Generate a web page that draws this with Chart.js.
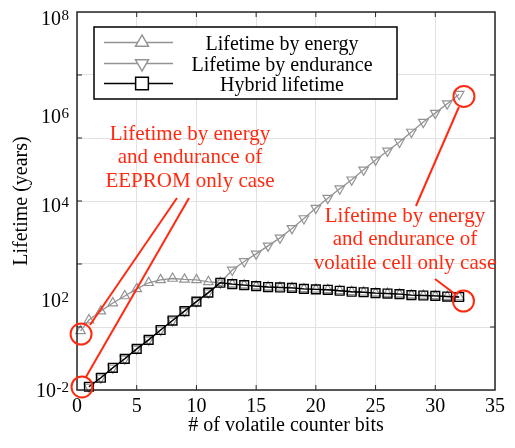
<!DOCTYPE html>
<html>
<head>
<meta charset="utf-8">
<script src="https://cdn.jsdelivr.net/npm/chart.js@4.4.1/dist/chart.umd.min.js"></script>
<style>
  html, body { margin: 0; padding: 0; background: #fff; }
  #wrap { width: 515px; height: 448px; }
</style>
</head>
<body>
<div id="wrap"><canvas id="lifeChart" width="515" height="448"></canvas></div>
<script>
// lifetime (years) vs number of volatile counter bits
const energyBits = [0.3, 1, 2, 3, 4, 5, 6, 7, 8, 9, 10, 11, 12, 13, 14, 15, 16, 17, 18, 19, 20, 21, 22, 23, 24, 25, 26, 27, 28, 29, 30, 31, 32];
const energyLife = [17.8, 30.2, 46.8, 69.2, 97.7, 138, 186, 214, 229, 219, 214, 195, 186, 174, 166, 158, 151, 148, 145, 138, 135, 132, 126, 120, 117, 112, 110, 107, 102, 100, 98, 95, 93];

const counterBits = [1, 2, 3, 4, 5, 6, 7, 8, 9, 10, 11, 12, 13, 14, 15, 16, 17, 18, 19, 20, 21, 22, 23, 24, 25, 26, 27, 28, 29, 30, 31, 32];
const enduranceLife = [1.17, 1.82, 2.95, 4.57, 7.41, 11.5, 18.6, 29.5, 46.8, 74.1, 115, 186, 347, 525, 759, 1122, 1660, 2630, 4266, 7079, 11480, 18200, 28180, 45710, 74130, 114800, 177800, 288400, 467700, 724400, 1148000, 1820000];
const hybridLife = [1.17, 1.82, 2.95, 4.57, 7.41, 11.5, 18.6, 29.5, 46.8, 74.1, 115, 186, 174, 166, 158, 151, 148, 145, 138, 135, 132, 126, 120, 117, 112, 110, 107, 102, 100, 98, 95, 93];

const seriesNames = ['Lifetime by energy', 'Lifetime by endurance', 'Hybrid lifetime'];

const xTicks = [0, 5, 10, 15, 20, 25, 30, 35];
const yGridValues = [1, 21.54, 464.2, 1e4, 2.154e5, 4.642e6, 1e8];
const yLabelValues = [1, 1e2, 1e4, 1e6, 1e8];
const yLabelExps = ['-2', '2', '4', '6', '8'];

const leftNote = ['Lifetime by energy', 'and endurance of', 'EEPROM only case'];
const rightNote = ['Lifetime by energy', 'and endurance of', 'volatile cell only case'];

const serif = '"Liberation Serif", "Times New Roman", serif';
const gray = '#939393';
const red = '#ff2a10';

function toPoints(xs, ys) {
    return xs.map((x, i) => ({ x: x, y: ys[i] }));
}

function markerPath(ctx, style, x, y, r) {
    ctx.beginPath();
    if (style === 'rect') {
        const s = r * Math.SQRT1_2;
        ctx.rect(x - s, y - s, 2 * s, 2 * s);
    } else {
        const dir = style === 'up' ? -1 : 1;
        const h = r * 0.866;
        ctx.moveTo(x, y + dir * r);
        ctx.lineTo(x - h, y - dir * r / 2);
        ctx.lineTo(x + h, y - dir * r / 2);
        ctx.closePath();
    }
}

const axisDecor = {
    id: 'axisDecor',
    afterDraw(chart) {
        const { ctx, chartArea: a, scales } = chart;
        const xs = scales.x, ys = scales.y;
        ctx.save();

        // box and inward ticks
        ctx.strokeStyle = '#262626';
        ctx.lineWidth = 1.5;
        ctx.strokeRect(a.left, a.top, a.right - a.left, a.bottom - a.top);
        ctx.beginPath();
        xTicks.slice(1, -1).forEach(v => {
            const px = xs.getPixelForValue(v);
            ctx.moveTo(px, a.bottom); ctx.lineTo(px, a.bottom - 5);
            ctx.moveTo(px, a.top); ctx.lineTo(px, a.top + 5);
        });
        yGridValues.slice(1, -1).forEach(v => {
            const py = ys.getPixelForValue(v);
            ctx.moveTo(a.left, py); ctx.lineTo(a.left + 5, py);
            ctx.moveTo(a.right, py); ctx.lineTo(a.right - 5, py);
        });
        ctx.lineWidth = 1;
        ctx.stroke();

        // tick labels
        ctx.fillStyle = '#000';
        ctx.font = '20px ' + serif;
        ctx.textAlign = 'center';
        ctx.textBaseline = 'alphabetic';
        xTicks.forEach(v => ctx.fillText(String(v), xs.getPixelForValue(v), a.bottom + 21.5));

        const yOffsets = [7, 11, 11, 16, 13];
        yLabelValues.forEach((v, i) => {
            const py = ys.getPixelForValue(v) + yOffsets[i];
            ctx.font = '15px ' + serif;
            const ew = ctx.measureText(yLabelExps[i]).width;
            ctx.textAlign = 'left';
            ctx.fillText(yLabelExps[i], a.left - 8 - ew, py - 5);
            ctx.font = '20px ' + serif;
            ctx.textAlign = 'right';
            ctx.fillText('10', a.left - 8.5 - ew, py);
        });

        // axis titles
        ctx.font = '20px ' + serif;
        ctx.textAlign = 'center';
        ctx.fillText('# of volatile counter bits', (a.left + a.right) / 2, a.bottom + 41);
        ctx.save();
        ctx.translate(27, (a.top + a.bottom) / 2);
        ctx.rotate(-Math.PI / 2);
        ctx.fillText('Lifetime (years)', 0, 0);
        ctx.restore();

        // legend
        const lx = 94, ly = 27, lw = 303, lh = 72;
        ctx.fillStyle = '#fff';
        ctx.fillRect(lx, ly, lw, lh);
        ctx.strokeStyle = '#000';
        ctx.lineWidth = 1.5;
        ctx.strokeRect(lx, ly, lw, lh);
        const rows = [42.5, 63.5, 83.5];
        const styles = ['up', 'down', 'rect'];
        const colors = [gray, gray, '#000'];
        const radii = [7.5, 7.5, 9];
        rows.forEach((ry, i) => {
            ctx.strokeStyle = colors[i];
            ctx.lineWidth = 1.5;
            ctx.beginPath();
            ctx.moveTo(104, ry); ctx.lineTo(173, ry);
            ctx.stroke();
            markerPath(ctx, styles[i], 142, ry, radii[i]);
            ctx.fillStyle = '#fff';
            ctx.fill();
            ctx.stroke();
            ctx.fillStyle = '#000';
            ctx.font = '20px ' + serif;
            ctx.textAlign = 'center';
            ctx.fillText(seriesNames[i], 282, ry + 7);
        });

        // red notes
        ctx.strokeStyle = red;
        ctx.fillStyle = red;
        ctx.lineWidth = 2;
        const seg = (x1, y1, x2, y2) => {
            ctx.beginPath();
            ctx.moveTo(xs.getPixelForValue(x1), ys.getPixelForValue(y1));
            ctx.lineTo(xs.getPixelForValue(x2), ys.getPixelForValue(y2));
            ctx.stroke();
        };
        const ring = (x, y) => {
            ctx.beginPath();
            ctx.arc(xs.getPixelForValue(x), ys.getPixelForValue(y), 10.5, 0, Math.PI * 2);
            ctx.stroke();
        };
        ring(0.34, 15.3);
        ring(0.42, 1.16);
        ring(32.4, 1.63e6);
        ring(32.36, 76.5);
        seg(1.09, 23.8, 8.37, 11560);
        seg(0.75, 1.88, 9.38, 11560);
        seg(31.98, 975000, 28.38, 7840);
        seg(29.98, 223, 31.65, 107.6);

        ctx.font = '21px ' + serif;
        ctx.textAlign = 'center';
        const note = (lines, x, y) => {
            const px = xs.getPixelForValue(x), py = ys.getPixelForValue(y);
            lines.forEach((t, i) => ctx.fillText(t, px, py + i * 23.5));
        };
        note(leftNote, 9.46, 195500);
        note(rightNote, 27.46, 3594);

        ctx.restore();
    }
};

function initializeChart() {
    const ctx = document.getElementById('lifeChart').getContext('2d');

    const data = {
        datasets: [{
            label: seriesNames[0],
            data: toPoints(energyBits, energyLife),
            borderColor: gray,
            pointBorderColor: gray,
            pointBackgroundColor: 'rgba(0,0,0,0)',
            pointStyle: 'triangle',
            pointRadius: 5.5,
            pointBorderWidth: 1.2,
            borderWidth: 1.3,
            order: 2
        }, {
            label: seriesNames[1],
            data: toPoints(counterBits, enduranceLife),
            borderColor: gray,
            pointBorderColor: gray,
            pointBackgroundColor: 'rgba(0,0,0,0)',
            pointStyle: 'triangle',
            pointRotation: 180,
            pointRadius: 5.5,
            pointBorderWidth: 1.2,
            borderWidth: 1.3,
            order: 1
        }, {
            label: seriesNames[2],
            data: toPoints(counterBits, hybridLife),
            borderColor: '#000',
            pointBorderColor: '#000',
            pointBackgroundColor: 'rgba(0,0,0,0)',
            pointStyle: 'rect',
            pointRadius: 6.2,
            pointBorderWidth: 1.4,
            borderWidth: 1.4,
            order: 0
        }]
    };

    const config = {
        type: 'line',
        data: data,
        options: {
            responsive: false,
            animation: false,
            clip: false,
            layout: {
                padding: { left: 77, right: 20, top: 12, bottom: 58 }
            },
            elements: {
                line: { tension: 0 }
            },
            plugins: {
                legend: { display: false },
                tooltip: { enabled: false }
            },
            scales: {
                x: {
                    type: 'linear',
                    min: 0,
                    max: 35,
                    ticks: { display: false, stepSize: 5 },
                    grid: { color: '#e2e2e2', drawTicks: false },
                    border: { display: false }
                },
                y: {
                    type: 'logarithmic',
                    min: 1,
                    max: 1e8,
                    ticks: { display: false },
                    grid: { color: '#e2e2e2', drawTicks: false },
                    border: { display: false },
                    afterBuildTicks: function (scale) {
                        scale.ticks = yGridValues.map(v => ({ value: v }));
                    }
                }
            }
        },
        plugins: [axisDecor]
    };

    new Chart(ctx, config);
}

document.addEventListener('DOMContentLoaded', initializeChart);
</script>
</body>
</html>
